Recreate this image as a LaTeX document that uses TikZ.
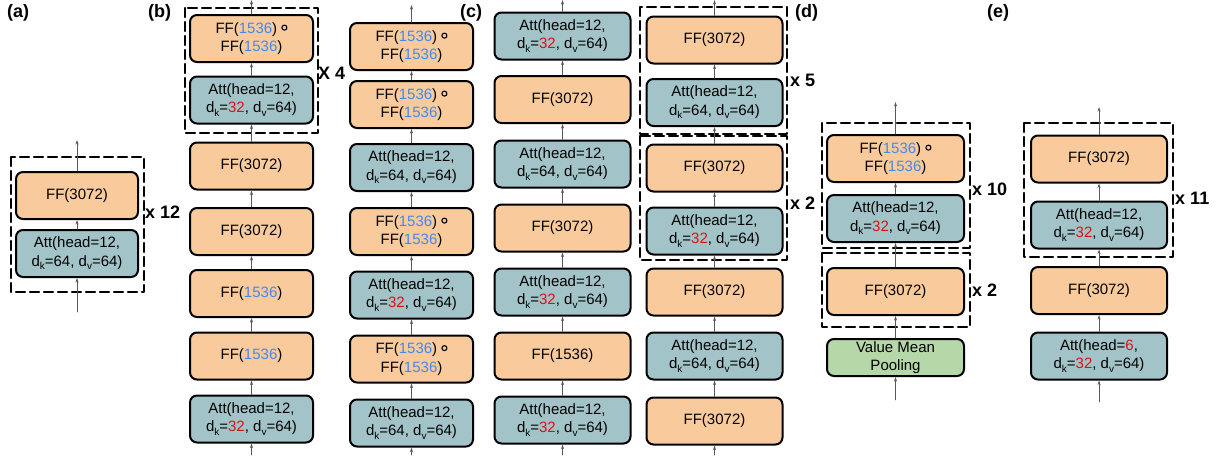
\documentclass[tikz,border=0pt]{standalone}
\usepackage{fontspec}
\setmainfont{Liberation Sans}
\usetikzlibrary{arrows.meta,positioning}
\definecolor{ffpeach}{RGB}{249,203,156}
\definecolor{attteal}{RGB}{162,196,201}
\definecolor{poolgreen}{RGB}{182,215,168}
\definecolor{cutred}{RGB}{214,20,20}
\definecolor{cutblue}{RGB}{74,134,232}
\newcommand{\cutr}[1]{\textcolor{cutred}{#1}}
\newcommand{\cutb}[1]{\textcolor{cutblue}{#1}}
\newcommand{\lowsub}[1]{\raisebox{-3.5pt}{\fontsize{10}{10}\selectfont #1}}
\newcommand{\ring}{\tikz[x=1pt,y=1pt,baseline=-5.5pt]\draw[line width=1.1pt] (0,0) circle [radius=2.5pt];}
\newcommand{\atttext}[3]{Att(head=#1,\\d\lowsub{k}=#2, d\lowsub{v}=#3)}
\newcommand{\ffpair}{FF(\cutb{1536}) \ring\\FF(\cutb{1536})}

\begin{document}
\begin{tikzpicture}[x=1pt,y=-1pt,>=Stealth,line cap=round,line join=round,
  block/.style={draw=black,line width=2pt,rounded corners=7pt,minimum height=47pt,
    inner sep=0pt,align=center,font=\fontsize{15}{18.5}\selectfont},
  narrow/.style={minimum width=123pt},
  wide/.style={minimum width=136pt},
  ff/.style={block,fill=ffpeach},
  att/.style={block,fill=attteal},
  pool/.style={block,fill=poolgreen,minimum height=37pt},
  rep/.style={draw=black,line width=2.2pt,dash pattern=on 9pt off 5pt},
  flow/.style={-{Stealth[length=4.5pt,width=3pt]},draw=black!65,line width=0.8pt},
  tag/.style={font=\fontsize{18}{20}\bfseries\selectfont,anchor=west,inner sep=0pt},
  times/.style={font=\fontsize{18}{20}\bfseries\selectfont,anchor=west,inner sep=0pt}]
 \useasboundingbox (0,0) rectangle (1222,455);

 % (a) base model
 \node[tag] (tga) at (7,13) {(a)};
 \draw[rep] (11,157) rectangle (144,292);
 \node[att,narrow,minimum width=122pt] (a1) at (77,253.5) {\atttext{12}{64}{64}};
 \node[ff,narrow,minimum width=122pt] (a2) at (77,195.5) {FF(3072)};
 \coordinate (a0) at (77,312);
 \coordinate (aT) at (77,140);
 \draw[flow] (a0) -- (a1);
 \draw[flow] (a1) -- (a2);
 \draw[flow] (a2) -- (aT);
 \node[times] (xa) at (145,212) {x 12};

 % (b) two stacks
 \node[tag] (tgb) at (148,13) {(b)};
 \draw[rep] (185,8) rectangle (318,133);
 \node[att,narrow] (b1) at (251.5,419) {\atttext{12}{\cutr{32}}{64}};
 \node[ff,narrow] (b2) at (251.5,356) {FF(\cutb{1536})};
 \node[ff,narrow] (b3) at (251.5,293.5) {FF(\cutb{1536})};
 \node[ff,narrow] (b4) at (251.5,231.5) {FF(3072)};
 \node[ff,narrow] (b5) at (251.5,166) {FF(3072)};
 \node[att,narrow] (b6) at (251.5,100) {\atttext{12}{\cutr{32}}{64}};
 \node[ff,narrow] (b7) at (251.5,38.5) {\ffpair};
 \coordinate (b0) at (251.5,455);
 \coordinate (bT) at (251.5,0);
 \draw[flow] (b0) -- (b1);
 \draw[flow] (b1) -- (b2);
 \draw[flow] (b2) -- (b3);
 \draw[flow] (b3) -- (b4);
 \draw[flow] (b4) -- (b5);
 \draw[flow] (b5) -- (b6);
 \draw[flow] (b6) -- (b7);
 \draw[flow] (b7) -- (bT);
 \node[times] (xb) at (318,73) {X 4};

 \node[att,narrow] (c1) at (411.5,423) {\atttext{12}{64}{64}};
 \node[ff,narrow] (c2) at (411.5,359) {\ffpair};
 \node[att,narrow] (c3) at (411.5,295) {\atttext{12}{\cutr{32}}{64}};
 \node[ff,narrow] (c4) at (411.5,231.5) {\ffpair};
 \node[att,narrow] (c5) at (411.5,167.5) {\atttext{12}{64}{64}};
 \node[ff,narrow] (c6) at (411.5,104.5) {\ffpair};
 \node[ff,narrow] (c7) at (411.5,46.5) {\ffpair};
 \coordinate (c0) at (411.5,455);
 \coordinate (cT) at (411.5,5);
 \draw[flow] (c0) -- (c1);
 \draw[flow] (c1) -- (c2);
 \draw[flow] (c2) -- (c3);
 \draw[flow] (c3) -- (c4);
 \draw[flow] (c4) -- (c5);
 \draw[flow] (c5) -- (c6);
 \draw[flow] (c6) -- (c7);
 \draw[flow] (c7) -- (cT);

 % (c) two stacks
 \node[tag] (tgc) at (460,13) {(c)};
 \node[att,wide] (d1) at (562.5,420) {\atttext{12}{\cutr{32}}{64}};
 \node[ff,wide] (d2) at (562.5,356) {FF(1536)};
 \node[att,wide] (d3) at (562.5,292) {\atttext{12}{\cutr{32}}{64}};
 \node[ff,wide] (d4) at (562.5,228) {FF(3072)};
 \node[att,wide] (d5) at (562.5,164) {\atttext{12}{64}{64}};
 \node[ff,wide] (d6) at (562.5,99.5) {FF(3072)};
 \node[att,wide] (d7) at (562.5,36) {\atttext{12}{\cutr{32}}{64}};
 \coordinate (d0) at (562.5,455);
 \coordinate (dT) at (562.5,0);
 \draw[flow] (d0) -- (d1);
 \draw[flow] (d1) -- (d2);
 \draw[flow] (d2) -- (d3);
 \draw[flow] (d3) -- (d4);
 \draw[flow] (d4) -- (d5);
 \draw[flow] (d5) -- (d6);
 \draw[flow] (d6) -- (d7);
 \draw[flow] (d7) -- (dT);

 \draw[rep] (640,7) rectangle (787,134);
 \draw[rep] (640,136) rectangle (787,260);
 \node[ff,wide] (e1) at (714.5,421) {FF(3072)};
 \node[att,wide] (e2) at (714.5,356) {\atttext{12}{64}{64}};
 \node[ff,wide] (e3) at (714.5,292) {FF(3072)};
 \node[att,wide] (e4) at (714.5,231) {\atttext{12}{\cutr{32}}{64}};
 \node[ff,wide] (e5) at (714.5,168) {FF(3072)};
 \node[att,wide] (e6) at (714.5,102.5) {\atttext{12}{64}{64}};
 \node[ff,wide] (e7) at (714.5,40) {FF(3072)};
 \coordinate (e0) at (714.5,455);
 \coordinate (eT) at (714.5,0);
 \draw[flow] (e0) -- (e1);
 \draw[flow] (e1) -- (e2);
 \draw[flow] (e2) -- (e3);
 \draw[flow] (e3) -- (e4);
 \draw[flow] (e4) -- (e5);
 \draw[flow] (e5) -- (e6);
 \draw[flow] (e6) -- (e7);
 \draw[flow] (e7) -- (eT);
 \node[times] (xe5) at (790,80) {x 5};
 \node[times] (xe2) at (790,203) {x 2};

 % (d) pooled values
 \node[tag] (tgd) at (795,13) {(d)};
 \draw[rep] (822,123) rectangle (970,248);
 \draw[rep] (822,253) rectangle (970,327);
 \node[pool,minimum width=137pt] (f1) at (895.5,357.5) {Value Mean\\Pooling};
 \node[ff,minimum width=137pt] (f2) at (895.5,291.5) {FF(3072)};
 \node[att,minimum width=137pt] (f3) at (895.5,218.5) {\atttext{12}{\cutr{32}}{64}};
 \node[ff,minimum width=137pt] (f4) at (895.5,158.5) {\ffpair};
 \coordinate (f0) at (895.5,400);
 \coordinate (fT) at (895.5,102);
 \draw[flow] (f0) -- (f1);
 \draw[flow] (f1) -- (f2);
 \draw[flow] (f2) -- (f3);
 \draw[flow] (f3) -- (f4);
 \draw[flow] (f4) -- (fT);
 \node[times] (xf10) at (972,189) {x 10};
 \node[times] (xf2) at (972,290) {x 2};

 % (e) fewer heads at the bottom
 \node[tag] (tge) at (987,13) {(e)};
 \draw[rep] (1024,123) rectangle (1173,257);
 \node[att,wide] (g1) at (1099,356) {\atttext{\cutr{6}}{\cutr{32}}{64}};
 \node[ff,wide] (g2) at (1099,290.5) {FF(3072)};
 \node[att,wide] (g3) at (1099,225) {\atttext{12}{\cutr{32}}{64}};
 \node[ff,wide] (g4) at (1099,159) {FF(3072)};
 \coordinate (g0) at (1099,402);
 \coordinate (gT) at (1099,107);
 \draw[flow] (g0) -- (g1);
 \draw[flow] (g1) -- (g2);
 \draw[flow] (g2) -- (g3);
 \draw[flow] (g3) -- (g4);
 \draw[flow] (g4) -- (gT);
 \node[times] (xg) at (1175,198) {x 11};
\end{tikzpicture}
\end{document}
